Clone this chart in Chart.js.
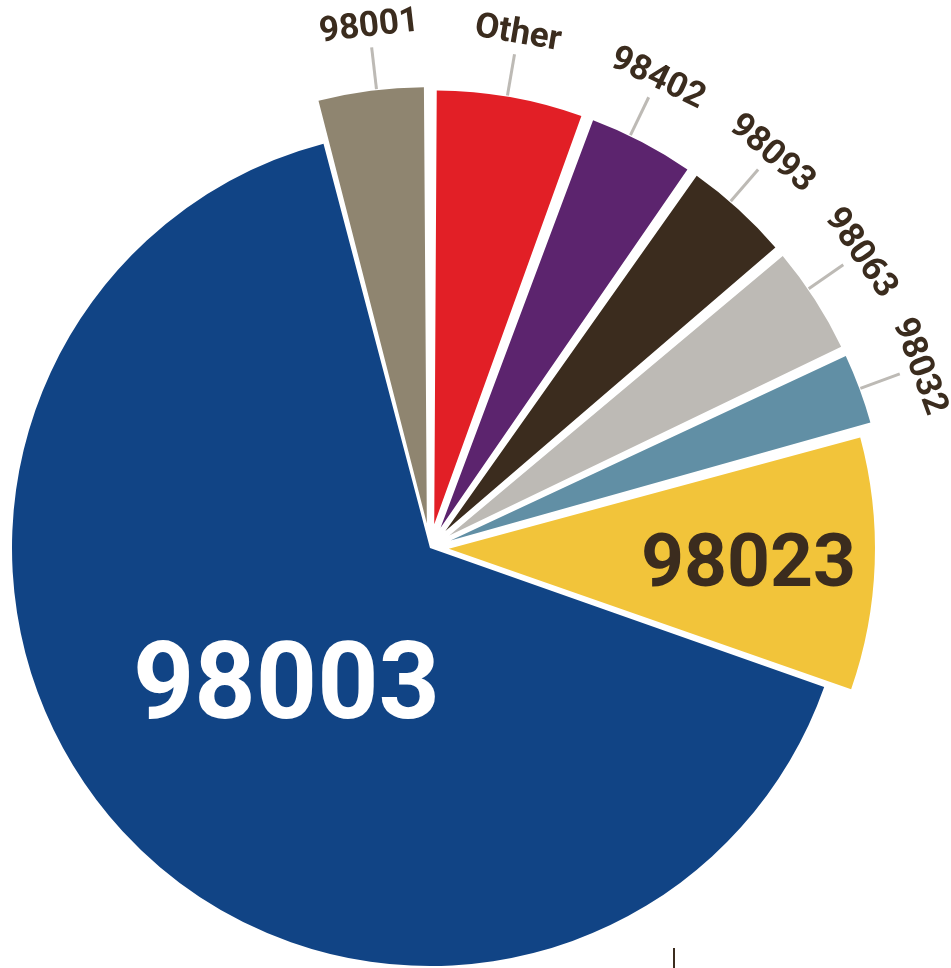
<!DOCTYPE html>
<html>
<head>
<meta charset="utf-8">
<script src="https://cdn.jsdelivr.net/npm/chart.js@4/dist/chart.umd.min.js"></script>
<style>
  html, body { margin: 0; padding: 0; background: #fff; }
  canvas { display: block; }
</style>
</head>
<body>
<canvas id="zipPie" width="951" height="968"></canvas>
<script>
// Share of records by ZIP code, clockwise from 12 o'clock
const zipCodes = ['Other', '98402', '98093', '98063', '98032', '98023', '98003', '98001'];
const shares = [5.6, 4.1, 4.1, 4.15, 2.8, 9.65, 65.5, 4.1];

const sliceColors = ['#e21f26', '#5c246e', '#3b2c1e', '#bdbab5', '#618fa5', '#f2c43a', '#114485', '#8f8570'];
// how far each slice is pulled out, in pixels
const sliceShift = [40, 40, 40, 40, 40, 27, 0, 43];
// outside labels are spaced a little evenly, so turn them off the slice middle (degrees)
const labelNudge = [-0.4, -1.8, -1.5, -1.7, 0, 0, 0, 0.8];

const RADIUS = 418;
const INK = '#3b2c1e';
const FONT = 'Roboto, "Liberation Sans", sans-serif';
const DIGIT_H = 0.711; // digit height as a share of the font size

// big labels drawn inside their slice: distance from apex as share of radius
const insideLabels = {
    '98003': { r: 0.467, size: 107, color: '#ffffff' },
    '98023': { r: 0.698, size: 75, color: INK }
};

const total = shares.reduce((a, b) => a + b, 0);

// ArcElement moves a slice by offset/4 * (1 + fix), fix depending on the
// slice's sweep; invert that so sliceShift is the real distance moved
function arcOffset(ctx) {
    const i = ctx.dataIndex;
    const sweep = shares[i] / total * Math.PI * 2;
    const fix = 1 - Math.sin(Math.min(Math.PI, sweep));
    return 4 * sliceShift[i] / (1 + fix);
}

const pieLabels = {
    id: 'pieLabels',
    afterDatasetsDraw(chart) {
        const ctx = chart.ctx;
        const arcs = chart.getDatasetMeta(0).data;
        ctx.save();
        arcs.forEach((arc, i) => {
            const name = zipCodes[i];
            const mid = (arc.startAngle + arc.endAngle) / 2;
            const ax = arc.x + Math.cos(mid) * sliceShift[i];
            const ay = arc.y + Math.sin(mid) * sliceShift[i];
            const r = arc.outerRadius;
            const inside = insideLabels[name];

            if (inside) {
                const d = r * inside.r;
                ctx.font = 'bold ' + inside.size + 'px ' + FONT;
                ctx.fillStyle = inside.color;
                ctx.textAlign = 'center';
                ctx.textBaseline = 'alphabetic';
                ctx.fillText(name, ax + Math.cos(mid) * d, ay + Math.sin(mid) * d + inside.size * DIGIT_H / 2);
                return;
            }

            const a = mid + labelNudge[i] * Math.PI / 180;
            const cos = Math.cos(a), sin = Math.sin(a);

            // leader line out of the slice
            ctx.strokeStyle = '#bdbab5';
            ctx.lineWidth = 3;
            ctx.beginPath();
            ctx.moveTo(ax + cos * (r + 1), ay + sin * (r + 1));
            ctx.lineTo(ax + cos * (r + 43), ay + sin * (r + 43));
            ctx.stroke();

            // name turned to follow the slice
            ctx.save();
            ctx.translate(ax + cos * (r + 67), ay + sin * (r + 67));
            ctx.rotate(a + Math.PI / 2);
            ctx.font = 'bold 35px ' + FONT;
            ctx.fillStyle = INK;
            ctx.textAlign = 'center';
            ctx.textBaseline = 'alphabetic';
            ctx.fillText(name, 0, 35 * DIGIT_H / 2);
            ctx.restore();
        });

        // short tick under the pie
        const area = chart.chartArea;
        ctx.strokeStyle = INK;
        ctx.lineWidth = 2;
        ctx.beginPath();
        ctx.moveTo(arcs[0].x + 244, area.bottom - 20);
        ctx.lineTo(arcs[0].x + 244, area.bottom);
        ctx.stroke();
        ctx.restore();
    }
};

new Chart(document.getElementById('zipPie'), {
    type: 'pie',
    data: {
        labels: zipCodes,
        datasets: [{
            data: shares,
            backgroundColor: sliceColors,
            offset: arcOffset,
            borderWidth: 0,
            clip: false
        }]
    },
    options: {
        responsive: false,
        animation: false,
        devicePixelRatio: 1,
        radius: RADIUS,
        layout: { padding: { left: 0, right: 91, top: 128, bottom: 0 } },
        events: [],
        plugins: {
            legend: { display: false },
            tooltip: { enabled: false }
        }
    },
    plugins: [pieLabels]
});
</script>
</body>
</html>
